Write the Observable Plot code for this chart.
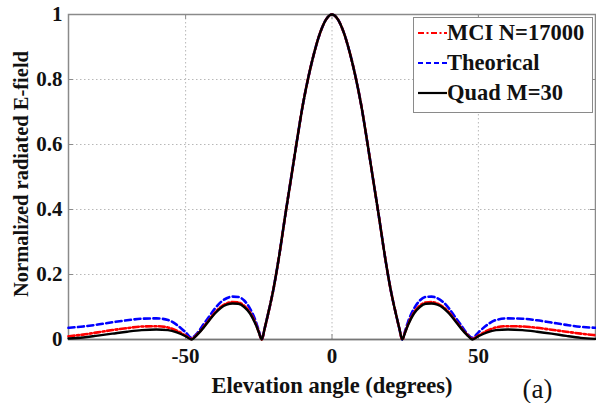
<!DOCTYPE html>
<html>
<head>
<meta charset="utf-8">
<script src="https://cdn.jsdelivr.net/npm/d3@7"></script>
<script src="https://cdn.jsdelivr.net/npm/@observablehq/plot@0.6"></script>
<style>
  html, body { margin: 0; padding: 0; background: #fff; }
  #wrap { position: relative; width: 596px; height: 403px; overflow: hidden; }
  #wrap svg text { font-family: "Liberation Serif", serif; }
  #legend {
    position: absolute; left: 413px; top: 17px; width: 178px; height: 94px;
    border: 1.5px solid #8a8a8a; background: #fff; box-sizing: content-box;
    font-family: "Liberation Serif", serif; font-weight: bold; font-size: 22.5px; color: #111;
  }
  .row { position: absolute; left: 3px; height: 24px; display: flex; align-items: center; white-space: nowrap; }
  .row svg { flex: none; }
</style>
</head>
<body>
<div id="wrap"></div>
<script>
// Elevation angles (degrees)
const angles = [-90,-85,-80,-75,-70,-65,-60,-56,-53,-50,-48,-46,-44,-42,-40,-38,-36,-34,-32,-30,-28,-26,-25,-24,-23,-22,-20,-18,-16,-14,-12,-10,-8,-6,-4,-2,0,2,4,6,8,10,12,14,16,18,20,22,23,24,25,26,28,30,32,34,36,38,40,42,44,46,48,50,53,56,60,65,70,75,80,85,90];

// MCI N=17000 (red dash-dot)
const mci = [0.010,0.015,0.022,0.029,0.035,0.040,0.041,0.037,0.027,0.012,0.002,0.016,0.037,0.060,0.083,0.100,0.111,0.115,0.114,0.104,0.083,0.047,0.023,0.000,0.034,0.072,0.155,0.260,0.380,0.495,0.610,0.720,0.810,0.885,0.945,0.985,1.000,0.985,0.945,0.885,0.810,0.720,0.610,0.495,0.380,0.260,0.155,0.072,0.034,0.000,0.023,0.047,0.083,0.104,0.114,0.115,0.111,0.100,0.083,0.060,0.037,0.016,0.002,0.012,0.027,0.037,0.041,0.040,0.036,0.030,0.024,0.018,0.013];

// Theorical (blue dashed)
const theo = [0.036,0.040,0.046,0.053,0.059,0.064,0.065,0.060,0.045,0.022,0.005,0.020,0.045,0.070,0.095,0.115,0.127,0.132,0.131,0.120,0.095,0.055,0.027,0.000,0.034,0.072,0.155,0.260,0.380,0.495,0.610,0.720,0.810,0.885,0.945,0.985,1.000,0.985,0.945,0.885,0.810,0.720,0.610,0.495,0.380,0.260,0.155,0.072,0.034,0.000,0.027,0.055,0.095,0.120,0.131,0.132,0.127,0.115,0.095,0.070,0.045,0.020,0.005,0.022,0.045,0.060,0.065,0.064,0.059,0.052,0.045,0.039,0.036];

// Quad M=30 (black solid)
const quad = [0.003,0.006,0.012,0.018,0.024,0.029,0.031,0.029,0.022,0.010,0.000,0.015,0.035,0.058,0.080,0.097,0.107,0.111,0.110,0.100,0.080,0.045,0.022,0.000,0.034,0.072,0.155,0.260,0.380,0.495,0.610,0.720,0.810,0.885,0.945,0.985,1.000,0.985,0.945,0.885,0.810,0.720,0.610,0.495,0.380,0.260,0.155,0.072,0.034,0.000,0.022,0.045,0.080,0.100,0.110,0.111,0.107,0.097,0.080,0.058,0.035,0.015,0.000,0.010,0.022,0.029,0.031,0.029,0.024,0.018,0.011,0.005,0.002];

const seriesNames = ["MCI N=17000", "Theorical", "Quad M=30"];
const xTicks = [-50, 0, 50];
const yTicks = [0, 0.2, 0.4, 0.6, 0.8, 1];
const xLabel = "Elevation angle (degrees)";
const yLabel = "Normalized radiated E-field";
const panelTag = "(a)";

const toRows = (vals) => angles.map((a, i) => ({angle: a, value: vals[i]}));
const rowsMci = toRows(mci), rowsTheo = toRows(theo), rowsQuad = toRows(quad);

const gridStyle = {stroke: "#b8b8b8", strokeOpacity: 1, strokeWidth: 1, strokeDasharray: "1.5,2.5"};
const tickStyle = {stroke: "#8a8a8a", strokeWidth: 1};

const chart = Plot.plot({
  width: 596,
  height: 403,
  marginLeft: 68,
  marginRight: 1,
  marginTop: 14,
  marginBottom: 64,
  style: {fontFamily: "Liberation Serif, serif", fontSize: "21px", fontWeight: "bold", color: "#111", background: "#fff", overflow: "visible"},
  x: {type: "linear", domain: [-90, 90]},
  y: {type: "linear", domain: [0, 1]},
  marks: [
    Plot.gridX(xTicks, gridStyle),
    Plot.gridY(yTicks.filter(d => d > 0 && d < 1), gridStyle),
    Plot.ruleX(xTicks, {x: d => d, y1: 0, y2: 0.015, ...tickStyle}),
    Plot.ruleX(xTicks, {x: d => d, y1: 0.985, y2: 1, ...tickStyle}),
    Plot.ruleY(yTicks, {y: d => d, x1: -90, x2: -88.3, ...tickStyle}),
    Plot.ruleY(yTicks, {y: d => d, x1: 88.3, x2: 90, ...tickStyle}),
    Plot.frame({stroke: "#8a8a8a", strokeWidth: 1.5}),
    Plot.ruleY([0], {stroke: "#777", strokeWidth: 1.5}),
    Plot.line(rowsTheo, {x: "angle", y: "value", stroke: "#0000ff", strokeWidth: 2.6, strokeDasharray: "6,3.5", curve: "monotone-x"}),
    Plot.line(rowsMci, {x: "angle", y: "value", stroke: "#ff0000", strokeWidth: 2.6, strokeDasharray: "6,2.5,2,2.5", curve: "monotone-x"}),
    Plot.line(rowsQuad, {x: "angle", y: "value", stroke: "#000", strokeWidth: 2.4, curve: "monotone-x"}),
    Plot.axisX({ticks: xTicks, tickFormat: d => String(d), tickSize: 0, tickPadding: 9, label: null}),
    Plot.axisY({ticks: yTicks, tickFormat: d => String(d), tickSize: 0, tickPadding: 6, label: null}),
    Plot.text([xLabel], {frameAnchor: "bottom", text: d => d, dy: 46, lineAnchor: "middle", textAnchor: "middle", fontSize: 22.5, fontWeight: "bold"}),
    Plot.text([yLabel], {frameAnchor: "left", text: d => d, dx: -47, dy: -3, rotate: -90, lineAnchor: "middle", textAnchor: "middle", fontSize: 20.5, fontWeight: "bold"}),
    Plot.text([panelTag], {frameAnchor: "bottom-right", text: d => d, dx: -58, dy: 50, lineAnchor: "middle", textAnchor: "middle", fontSize: 27, fontWeight: "normal"})
  ]
});

const wrap = document.getElementById("wrap");
wrap.appendChild(chart);

// Legend (HTML overlay)
const legend = document.createElement("div");
legend.id = "legend";
const styles = [
  {stroke: "#ff0000", dash: "6,2.5,2,2.5", w: 2.2},
  {stroke: "#0000ff", dash: "5,3", w: 2.2},
  {stroke: "#000", dash: null, w: 2.2}
];
const rowTops = [3, 33, 63];
seriesNames.forEach((name, i) => {
  const row = document.createElement("div");
  row.className = "row";
  row.style.top = rowTops[i] + "px";
  const s = styles[i];
  row.innerHTML = `<svg width="30" height="24"><line x1="1" x2="30" y1="12" y2="12" stroke="${s.stroke}" stroke-width="${s.w}" ${s.dash ? `stroke-dasharray="${s.dash}"` : ""}/></svg><span>${name}</span>`;
  legend.appendChild(row);
});
wrap.appendChild(legend);
</script>
</body>
</html>
